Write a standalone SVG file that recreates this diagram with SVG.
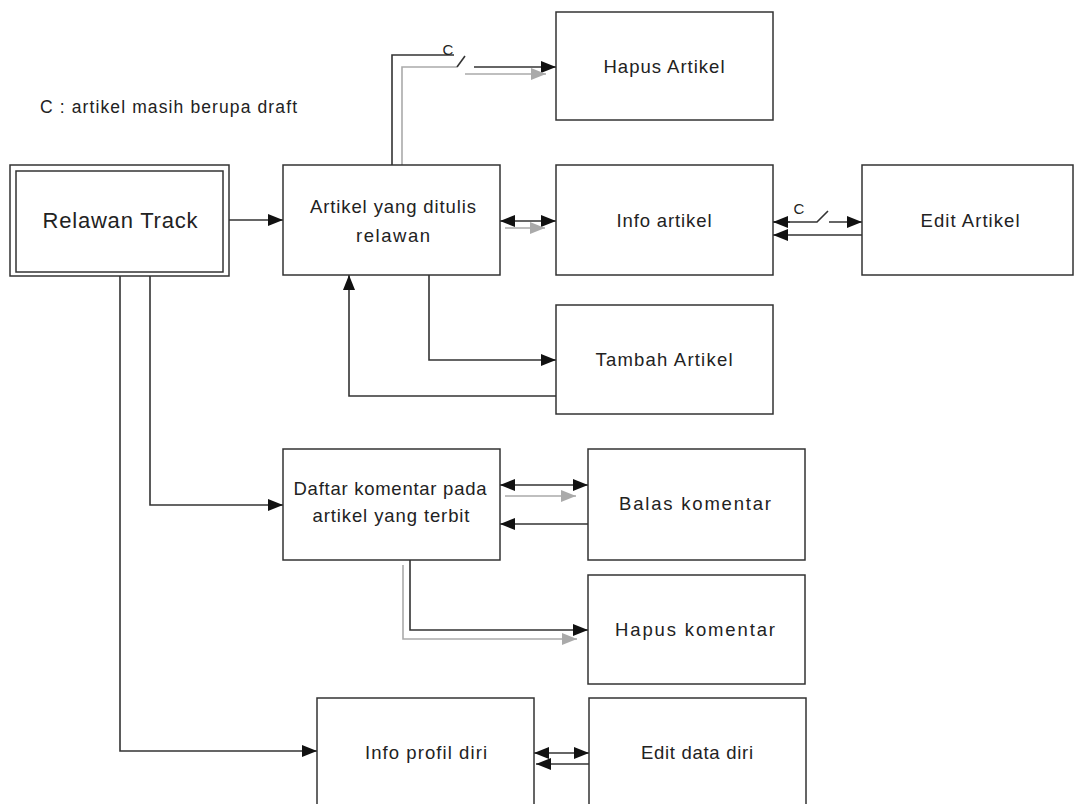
<svg xmlns="http://www.w3.org/2000/svg" width="1075" height="804" viewBox="0 0 1075 804">
<style>
.box{fill:#fff;stroke:#333;stroke-width:1.5}
.t{font-family:"Liberation Sans",Arial,sans-serif;font-size:18.5px;fill:#222;text-anchor:middle}
.ln{fill:none;stroke:#333;stroke-width:1.6}
.gl{fill:none;stroke:#aaa;stroke-width:1.6}
</style>
<defs>
<marker id="a" markerUnits="userSpaceOnUse" markerWidth="16" markerHeight="12" refX="15" refY="6" orient="auto-start-reverse"><path d="M0,0 L15,6 L0,12 Z" fill="#111"/></marker>
<marker id="g" markerUnits="userSpaceOnUse" markerWidth="16" markerHeight="12" refX="15" refY="6" orient="auto-start-reverse"><path d="M0,0 L15,6 L0,12 Z" fill="#aaa"/></marker>
</defs>
<rect width="1075" height="804" fill="#fff"/>
<text class="t" x="40" y="113" style="text-anchor:start;font-size:17.5px" textLength="257" lengthAdjust="spacing">C : artikel masih berupa draft</text>

<g id="connectors">
<path class="ln" d="M229,220 H283" marker-end="url(#a)"/>
<path class="ln" d="M392,165 V55 H454"/>
<path class="gl" d="M402,165 V67 H457"/>
<path class="ln" d="M457,67 L465,56"/>
<path class="ln" d="M474,67 H556" marker-end="url(#a)"/>
<path class="gl" d="M465,74 H546" marker-end="url(#g)"/>
<text class="t" x="448" y="55" style="font-size:15px">C</text>
<path class="ln" d="M500,221 H556" marker-start="url(#a)" marker-end="url(#a)"/>
<path class="gl" d="M505,228 H545" marker-end="url(#g)"/>
<path class="ln" d="M773,222 H817 L828,211"/>
<path class="ln" d="M829,222 H862" marker-end="url(#a)"/>
<path d="M773,222 H790" class="ln" marker-start="url(#a)"/>
<text class="t" x="799" y="214" style="font-size:15px">C</text>
<path class="ln" d="M862,235 H773" marker-end="url(#a)"/>
<path class="ln" d="M429,275 V360 H556" marker-end="url(#a)"/>
<path class="ln" d="M556,396 H349 V275" marker-end="url(#a)"/>
<path class="ln" d="M150,275 V505 H283" marker-end="url(#a)"/>
<path class="ln" d="M120,275 V751 H317" marker-end="url(#a)"/>
<path class="ln" d="M500,485 H588" marker-start="url(#a)" marker-end="url(#a)"/>
<path class="gl" d="M505,496 H576" marker-end="url(#g)"/>
<path class="ln" d="M588,524 H500" marker-end="url(#a)"/>
<path class="ln" d="M410,560 V630 H588" marker-end="url(#a)"/>
<path class="gl" d="M403,565 V639 H577" marker-end="url(#g)"/>
<path class="ln" d="M534,753 H589" marker-start="url(#a)" marker-end="url(#a)"/>
<path class="ln" d="M589,764 H536" marker-end="url(#a)"/>
</g>

<g id="relawan-track">
<rect class="box" x="10" y="165" width="219" height="111"/>
<rect class="box" x="16" y="171" width="207" height="101"/>
<text class="t" x="120" y="228" style="font-size:22px" textLength="155" lengthAdjust="spacing">Relawan Track</text>
</g>
<g id="artikel-ditulis">
<rect class="box" x="283" y="165" width="217" height="110"/>
<text class="t" x="393" y="213" textLength="166" lengthAdjust="spacing">Artikel yang ditulis</text>
<text class="t" x="393" y="242" textLength="74" lengthAdjust="spacing">relawan</text>
</g>
<g id="hapus-artikel">
<rect class="box" x="556" y="12" width="217" height="108"/>
<text class="t" x="664" y="73" textLength="121" lengthAdjust="spacing">Hapus Artikel</text>
</g>
<g id="info-artikel">
<rect class="box" x="556" y="165" width="217" height="110"/>
<text class="t" x="664" y="227" textLength="95" lengthAdjust="spacing">Info artikel</text>
</g>
<g id="edit-artikel">
<rect class="box" x="862" y="165" width="211" height="110"/>
<text class="t" x="970" y="227" textLength="99" lengthAdjust="spacing">Edit Artikel</text>
</g>
<g id="tambah-artikel">
<rect class="box" x="556" y="305" width="217" height="109"/>
<text class="t" x="664" y="366" textLength="137" lengthAdjust="spacing">Tambah Artikel</text>
</g>
<g id="daftar-komentar">
<rect class="box" x="283" y="449" width="217" height="111"/>
<text class="t" x="390" y="495" textLength="193" lengthAdjust="spacing">Daftar komentar pada</text>
<text class="t" x="391" y="522" textLength="157" lengthAdjust="spacing">artikel yang terbit</text>
</g>
<g id="balas-komentar">
<rect class="box" x="588" y="449" width="217" height="111"/>
<text class="t" x="695" y="510" textLength="152" lengthAdjust="spacing">Balas komentar</text>
</g>
<g id="hapus-komentar">
<rect class="box" x="588" y="575" width="217" height="109"/>
<text class="t" x="695" y="636" textLength="160" lengthAdjust="spacing">Hapus komentar</text>
</g>
<g id="info-profil">
<rect class="box" x="317" y="698" width="217" height="110"/>
<text class="t" x="426" y="759" textLength="122" lengthAdjust="spacing">Info profil diri</text>
</g>
<g id="edit-data-diri">
<rect class="box" x="589" y="698" width="217" height="110"/>
<text class="t" x="697" y="759" textLength="112" lengthAdjust="spacing">Edit data diri</text>
</g>
</svg>
